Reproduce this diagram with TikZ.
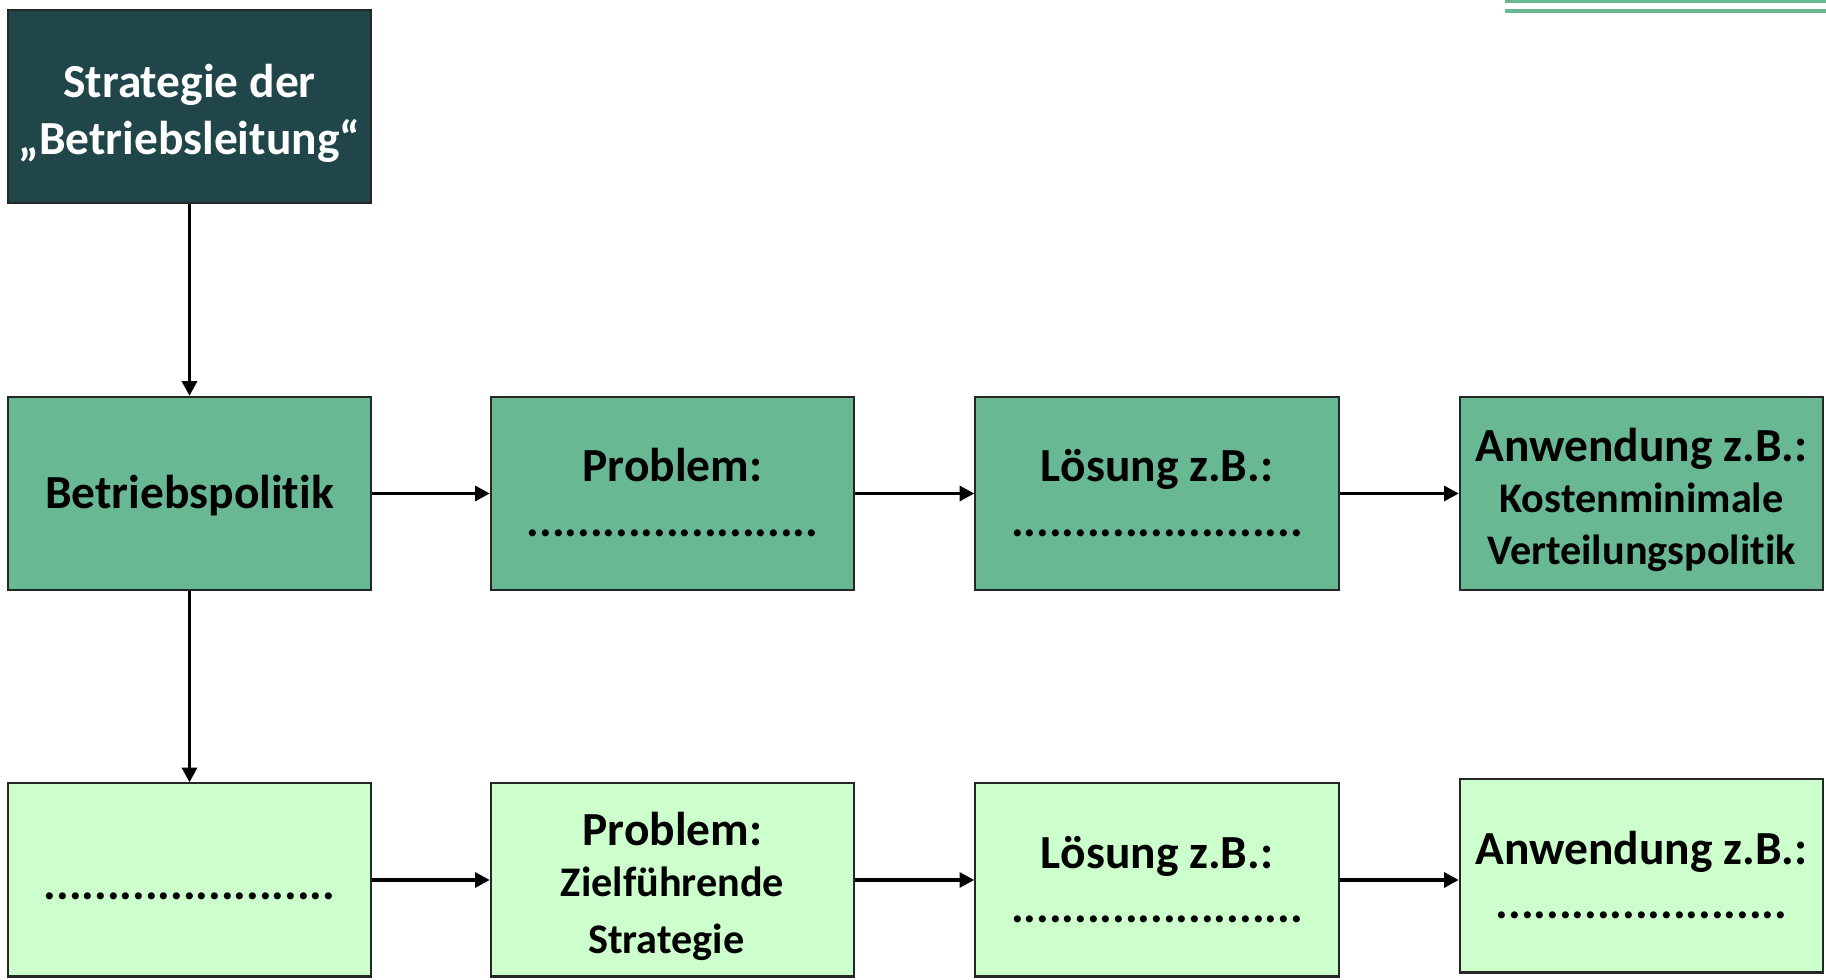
\documentclass[tikz,border=0pt]{standalone}
\usepackage{fontspec}
\setmainfont{Carlito}[Ligatures={TeX,NoCommon}]
\usepackage{xcolor}
\usetikzlibrary{arrows.meta}

\definecolor{leadteal}{HTML}{21464A}
\definecolor{midgreen}{HTML}{68B894}
\definecolor{palegreen}{HTML}{CCFFCC}

\newcommand{\bigline}{\fontsize{13.5}{16.2}\selectfont}
\newcommand{\smallline}{\fontsize{12}{14.6}\selectfont}
\newcommand{\gaps}{.......................}
% fixed top and bottom of each text block
\newcommand{\tops}{\rule{0pt}{12.5pt}}
\newcommand{\hightops}{\rule{0pt}{14.7pt}}
\newcommand{\bots}{\rule[-3.7pt]{0pt}{0pt}}

\tikzset{
    box/.style={draw=black!85, line width=0.6pt, minimum width=3.63cm, minimum height=1.93cm,
        inner sep=0pt, align=center, font=\bfseries\bigline},
    flow/.style={line width=1.1pt, -{Triangle[length=4.2pt,width=4.2pt]}},
}

\begin{document}
\begin{tikzpicture}[x=0.01cm, y=-0.01cm]
    \useasboundingbox (0,0) rectangle (1826,980);

    % Rules in the top right corner
    \draw[midgreen, line width=0.85pt] (1505,1.5) -- (1826,1.5);
    \draw[midgreen, line width=1.15pt] (1505,11) -- (1826,11);

    % Top box
    \node[box, fill=leadteal, text=white] (lead) at (189.5,106.5)
        {\hightops Strategie der\\„Betriebsleitung“\bots};

    % First row
    \node[box, fill=midgreen] (politik) at (189.5,493.5) {\tops Betriebspolitik\bots};
    \node[box, fill=midgreen] (prob1) at (672.5,493.5) {\tops Problem:\\[-0.8pt]\gaps\bots};
    \node[box, fill=midgreen] (loes1) at (1157,493.5) {\tops Lösung z.B.:\\[-0.8pt]\gaps\bots};
    \node[box, fill=midgreen] (anw1) at (1641.5,493.5)
        {\hightops Anwendung z.B.:\\[-1.6pt]{\smallline Kostenminimale}\\[-1.6pt]{\smallline Verteilungspolitik}\bots};

    % Second row
    \node[box, fill=palegreen] (gap2) at (189.5,880) {\hightops\gaps\bots};
    \node[box, fill=palegreen] (prob2) at (672.5,880)
        {\hightops Problem:\\[-1.6pt]{\smallline Zielführende}\\{\smallline Strategie\hspace*{0.3em}}\bots};
    \node[box, fill=palegreen] (loes2) at (1157,880) {\tops Lösung z.B.:\\[-0.8pt]\gaps\bots};
    \node[box, fill=palegreen] (anw2) at (1641.5,876) {\tops Anwendung z.B.:\\[-0.8pt]\gaps\bots};

    % Connectors
    \draw[flow] (lead) -- (politik);
    \draw[flow] (politik) -- (gap2);
    \foreach \a/\b in {politik/prob1, prob1/loes1, loes1/anw1, gap2/prob2, prob2/loes2} {
        \draw[flow] (\a) -- (\b);
    }
    \draw[flow] (loes2.east) -- (anw2.west |- loes2.east);
\end{tikzpicture}
\end{document}
